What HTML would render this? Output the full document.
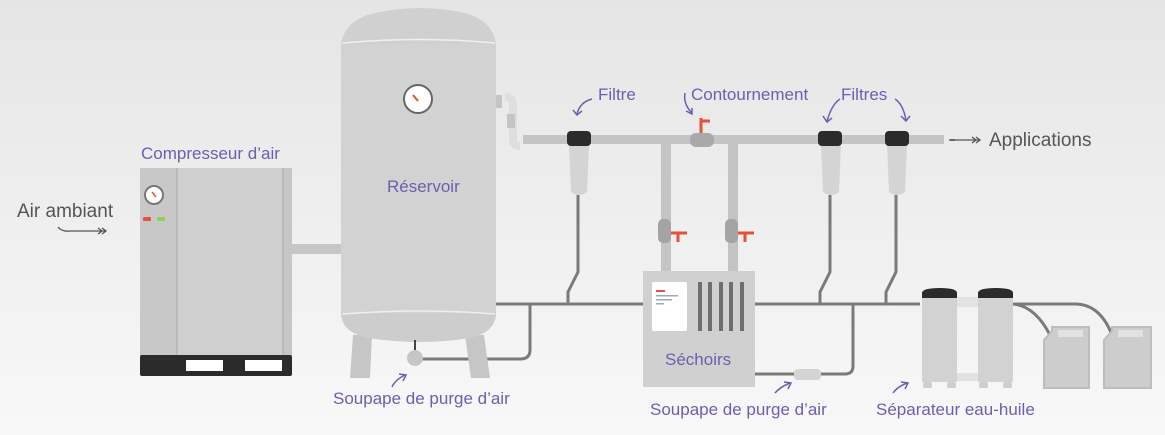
<!DOCTYPE html>
<html><head><meta charset="utf-8"><style>
html,body{margin:0;padding:0;width:1165px;height:435px;overflow:hidden;}
body{background:linear-gradient(#e5e5e5,#f7f7f7);}
svg{display:block}
text{font-family:"Liberation Sans",sans-serif;}
.p{fill:#6a5fb0;font-size:17px}
.g{fill:#555;font-size:19px}
</style></head><body>
<svg width="1165" height="435" viewBox="0 0 1165 435">
<defs><linearGradient id="bg" x1="0" y1="0" x2="0" y2="1"><stop offset="0" stop-color="#e5e5e5"/><stop offset="1" stop-color="#f8f8f8"/></linearGradient></defs>
<rect width="1165" height="435" fill="url(#bg)"/>
<g fill="none" stroke="#7a7a7a" stroke-width="3" stroke-linejoin="round">
<path d="M496 304 H920"/>
<path d="M578 195 V272 L568 292 V304"/>
<path d="M830 195 V272 L820 292 V304"/>
<path d="M896 195 V272 L886 292 V304"/>
<path d="M530 304 V350 Q530 359 520 359 H420"/>
<path d="M755 374 H845 Q853 374 853 366 V304"/>
<path d="M1013 304 H1075 Q1100 304 1112 335"/>
<path d="M1013 304 Q1035 306 1050 335"/>
</g>
<rect x="292" y="244" width="49" height="10" fill="#c6c6c6"/>
<rect x="140" y="168" width="152" height="190" fill="#cfcfcf"/>
<rect x="140" y="168" width="37" height="190" fill="#c8c8c8"/>
<rect x="283" y="168" width="9" height="190" fill="#c6c6c6"/>
<line x1="177" y1="168" x2="177" y2="356" stroke="#aaa"/>
<line x1="283" y1="168" x2="283" y2="356" stroke="#aaa"/>
<rect x="140" y="355" width="152" height="21" rx="2" fill="#2b2b2b"/>
<rect x="186" y="360" width="37" height="11" fill="#fff"/>
<rect x="245" y="360" width="37" height="11" fill="#fff"/>
<circle cx="154" cy="195" r="9" fill="#fff" stroke="#777" stroke-width="2"/>
<line x1="152" y1="192" x2="156" y2="197" stroke="#e0533a" stroke-width="1.5"/>
<rect x="143" y="217" width="8" height="4" rx="1" fill="#e8503a"/>
<rect x="157" y="217" width="8" height="4" rx="1" fill="#8fd04e"/>
<polygon points="353,335 372,335 370,378 350,378" fill="#c6c6c6"/>
<polygon points="465,335 484,335 490,378 471,378" fill="#c6c6c6"/>
<path d="M341 44 Q345 18 380 12 Q420 4 460 12 Q492 18 496 44 Z" fill="#d0d0d0"/>
<rect x="341" y="44" width="155" height="270" fill="#d2d2d2"/>
<path d="M341 313 H496 Q496 332 470 338 Q420 346 368 338 Q341 332 341 313 Z" fill="#cdcdcd"/>
<path d="M342 43 Q420 36 495 43" stroke="#f0f0f0" stroke-width="1.5" fill="none"/>
<path d="M342 314 Q420 308 495 314" stroke="#f0f0f0" stroke-width="1.5" fill="none"/>
<circle cx="418" cy="99" r="14" fill="#fff" stroke="#666" stroke-width="2"/>
<line x1="413" y1="95" x2="418" y2="101" stroke="#e0533a" stroke-width="2"/>
<line x1="415" y1="340" x2="415" y2="352" stroke="#444" stroke-width="2"/>
<circle cx="415" cy="358" r="8" fill="#c6c6c6"/>
<rect x="496" y="95" width="6" height="13" fill="#c4c4c4"/>
<path d="M505 97 Q513 97 513 106 V140 Q513 146 520 146" stroke="#dedede" stroke-width="8" fill="none"/>
<rect x="507" y="114" width="8" height="14" fill="#c4c4c4"/>
<rect x="523" y="135" width="421" height="9" fill="#c4c4c4"/>
<rect x="949" y="139" width="6" height="2" fill="#888"/>
<rect x="661" y="144" width="10" height="127" fill="#c4c4c4"/>
<rect x="728" y="144" width="10" height="127" fill="#c4c4c4"/>
<rect x="690" y="133" width="24" height="14" rx="6" fill="#a9a9a9"/>
<path d="M701 133 V118 M701 121 H710" stroke="#e8503a" stroke-width="3" fill="none"/>
<rect x="658" y="219" width="13" height="24" rx="5" fill="#a4a4a4"/>
<path d="M671 233 H687 M678 233 V242" stroke="#e8503a" stroke-width="3" fill="none"/>
<rect x="725" y="219" width="13" height="24" rx="5" fill="#a4a4a4"/>
<path d="M738 233 H754 M745 233 V242" stroke="#e8503a" stroke-width="3" fill="none"/>
<g fill="#d4d4d4">
<path d="M569 145 H589 L587 192 Q579 198 571 192 Z"/>
<path d="M821 145 H841 L839 192 Q831 198 823 192 Z"/>
<path d="M887 145 H907 L905 192 Q897 198 889 192 Z"/>
</g>
<g fill="#2b2b2b">
<rect x="567" y="131" width="24" height="15" rx="4"/>
<rect x="818" y="131" width="24" height="15" rx="4"/>
<rect x="885" y="131" width="24" height="15" rx="4"/>
</g>
<rect x="643" y="271" width="112" height="116" fill="#d0d0d0"/>
<rect x="652" y="282" width="35" height="49" rx="2" fill="#fff"/>
<rect x="656" y="290" width="9" height="2" fill="#e8503a"/>
<rect x="656" y="295" width="22" height="1.5" fill="#9ab"/>
<rect x="656" y="299" width="16" height="1.5" fill="#9ab"/>
<rect x="656" y="303" width="8" height="1.5" fill="#9ab"/>
<g fill="#6e6e6e"><rect x="698" y="282" width="4" height="49"/><rect x="708" y="282" width="4" height="49"/><rect x="719" y="282" width="4" height="49"/><rect x="729" y="282" width="4" height="49"/><rect x="740" y="282" width="4" height="49"/></g>
<rect x="794" y="369" width="27" height="11" rx="4" fill="#d4d4d4"/>
<rect x="955" y="297" width="25" height="10" fill="#e2e2e2"/>
<rect x="955" y="373" width="25" height="8" fill="#e2e2e2"/>
<rect x="922" y="293" width="35" height="89" fill="#d2d2d2"/>
<rect x="978" y="293" width="35" height="89" fill="#d2d2d2"/>
<path d="M922 298 V293 Q922 288 940 288 Q957 288 957 293 V298 Z" fill="#2b2b2b"/>
<path d="M978 298 V293 Q978 288 996 288 Q1013 288 1013 293 V298 Z" fill="#2b2b2b"/>
<g fill="#cfcfcf"><rect x="923" y="382" width="9" height="6" rx="2"/><rect x="947" y="382" width="9" height="6" rx="2"/><rect x="979" y="382" width="9" height="6" rx="2"/><rect x="1003" y="382" width="9" height="6" rx="2"/></g>
<g fill="#cdcdcd" stroke="#bdbdbd" stroke-width="2">
<path d="M1044 340 L1052 331 V327 H1089 V388 H1044 Z"/>
<path d="M1104 340 L1112 331 V327 H1151 V388 H1104 Z"/>
</g>
<rect x="1058" y="330" width="25" height="7" fill="#e2e2e2"/>
<rect x="1118" y="330" width="25" height="7" fill="#e2e2e2"/>
<g fill="none" stroke="#6a5fb0" stroke-width="1.5">
<path d="M592 99 Q580 102 577 114 M573 110 L577 115 L582 111"/>
<path d="M685 93 Q683 104 692 113 M686 111 L692 114 L692 108"/>
<path d="M840 99 Q832 104 827 121 M823 116 L827 122 L832 118"/>
<path d="M895 99 Q903 104 906 120 M901 116 L906 121 L910 116"/>
<path d="M392 387 Q395 380 405 375 M399 374 L406 375 L403 381"/>
<path d="M775 393 Q780 387 790 383 M784 382 L791 383 L788 389"/>
<path d="M893 393 Q897 387 907 383 M901 382 L908 383 L905 389"/>
</g>
<g fill="none" stroke="#555" stroke-width="1.3">
<path d="M58 227 Q62 232 70 231 H106 M98 228 L102 231 L98 234 M102 228 L106 231 L102 234"/>
<path d="M950 140 H980 M972 137 L976 140 L972 143 M976 137 L980 140 L976 143"/>
</g>
<text class="p" x="141" y="159">Compresseur d’air</text>
<text class="p" x="387" y="192">Réservoir</text>
<text class="p" x="333" y="404">Soupape de purge d’air</text>
<text class="p" x="598" y="100">Filtre</text>
<text class="p" x="691" y="100">Contournement</text>
<text class="p" x="841" y="100">Filtres</text>
<text class="p" x="665" y="365">Séchoirs</text>
<text class="p" x="650" y="415">Soupape de purge d’air</text>
<text class="p" x="876" y="415">Séparateur eau-huile</text>
<text class="g" x="17" y="217">Air ambiant</text>
<text class="g" x="989" y="146">Applications</text>
</svg>
</body></html>
